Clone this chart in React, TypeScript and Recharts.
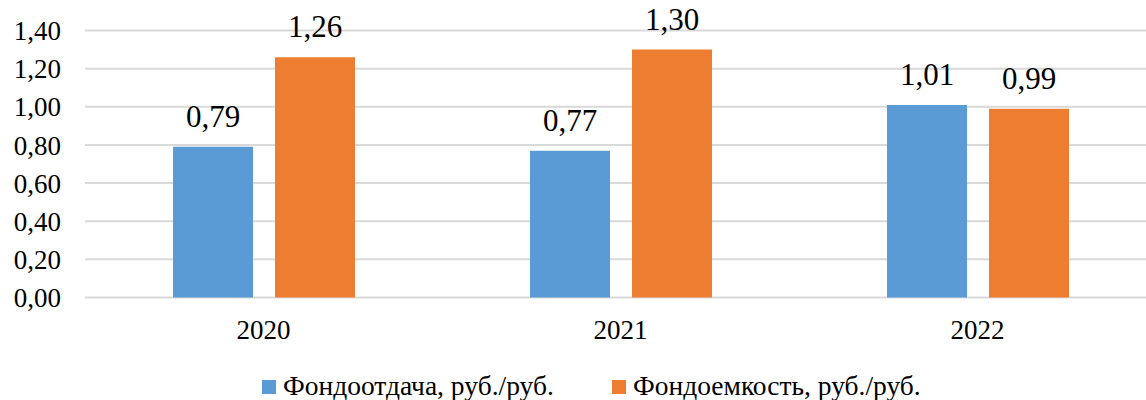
import React from "react";
import { BarChart, Bar, XAxis, YAxis, CartesianGrid, Legend, LabelList } from "recharts";

const categories = ["2020", "2021", "2022"];
const fondootdacha = [0.79, 0.77, 1.01];
const fondoemkost = [1.26, 1.3, 0.99];
const yTicks = [0, 0.2, 0.4, 0.6, 0.8, 1.0, 1.2, 1.4];
const seriesNames = ["Фондоотдача, руб./руб.", "Фондоемкость, руб./руб."];
const seriesColors = ["#5B9BD5", "#ED7D31"];

const data = categories.map((c, i) => ({ year: c, a: fondootdacha[i], b: fondoemkost[i] }));

const FONT = '"Liberation Serif"';
const fmt = (v: number) => v.toFixed(2).replace(".", ",");

const LegendContent = () => (
  <div style={{ position: "relative", width: 1146, height: 40, fontFamily: FONT, fontSize: 27.5, color: "#000" }}>
    {seriesNames.map((n, i) => (
      <div
        key={n}
        style={{
          position: "absolute",
          left: i === 0 ? 262 : 612,
          top: 11,
          height: 29,
          display: "flex",
          alignItems: "center",
          whiteSpace: "nowrap",
          fontFamily: FONT,
        }}
      >
        <span style={{ display: "inline-block", width: 14, height: 14, background: seriesColors[i], marginRight: 7, marginTop: 2 }} />
        <span style={{ lineHeight: "29px", fontFamily: FONT }}>{n}</span>
      </div>
    ))}
  </div>
);

export default function App() {
  return (
    <div style={{ position: "absolute", left: 0, top: 0, width: 1146, height: 400, overflow: "hidden", background: "#fff", fontFamily: FONT }}>
      <BarChart
        width={1156}
        height={400}
        data={data}
        margin={{ top: 30.5, right: 0, left: 0, bottom: 0 }}
        barSize={80}
        barGap={22}
        style={{ fontFamily: FONT }}
      >
        <CartesianGrid vertical={false} stroke="#d9d9d9" strokeWidth={2} />
        <XAxis
          dataKey="year"
          axisLine={false}
          tickLine={false}
          tickSize={0}
          tickMargin={22}
          height={62.5}
          tick={{ fontFamily: FONT, fontSize: 27, fill: "#000" }}
        />
        <YAxis
          domain={[0, 1.4]}
          ticks={yTicks}
          width={85}
          axisLine={false}
          tickLine={false}
          tickSize={0}
          tickMargin={24}
          tickFormatter={fmt}
          tick={{ fontFamily: FONT, fontSize: 27, fill: "#000" }}
        />
        <Legend verticalAlign="bottom" content={<LegendContent />} wrapperStyle={{ left: 0, width: 1146, height: 40 }} />
        <Bar dataKey="a" name={seriesNames[0]} fill={seriesColors[0]} isAnimationActive={false}>
          <LabelList dataKey="a" position="top" offset={20} formatter={fmt} fontFamily={FONT} fontSize={31} fill="#000" />
        </Bar>
        <Bar dataKey="b" name={seriesNames[1]} fill={seriesColors[1]} isAnimationActive={false}>
          <LabelList dataKey="b" position="top" offset={20} formatter={fmt} fontFamily={FONT} fontSize={31} fill="#000" />
        </Bar>
      </BarChart>
    </div>
  );
}
